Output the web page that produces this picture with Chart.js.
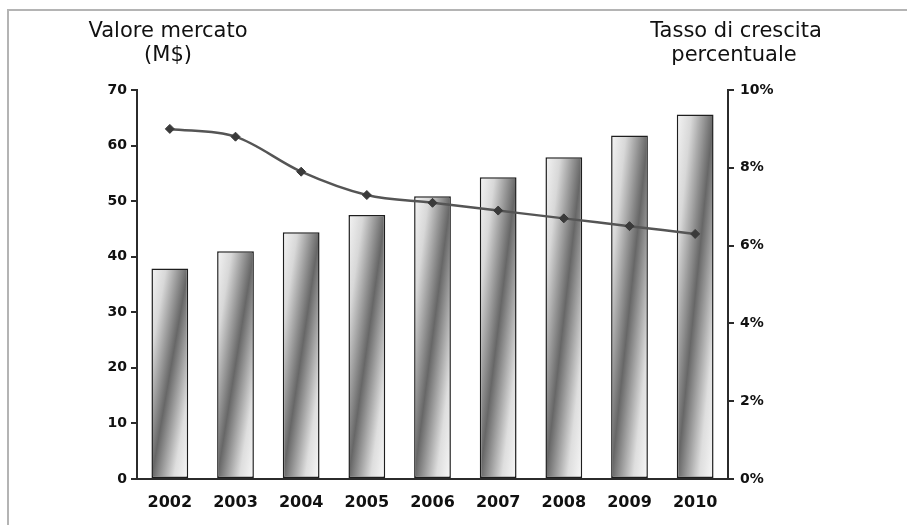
<!DOCTYPE html>
<html>
<head>
<meta charset="utf-8">
<script src="https://cdn.jsdelivr.net/npm/chart.js@4/dist/chart.umd.min.js"></script>
<style>
  html, body { margin: 0; padding: 0; background: #ffffff; }
  #wrap { width: 907px; height: 525px; position: relative; }
</style>
</head>
<body>
<div id="wrap"><canvas id="chart" width="907" height="525"></canvas></div>
<script>
// Market value (M$) and yearly growth rate (%)
const categories = ['2002', '2003', '2004', '2005', '2006', '2007', '2008', '2009', '2010'];
const marketValues = [37.9, 41.0, 44.4, 47.5, 50.9, 54.3, 57.9, 61.8, 65.6];
const growthRates = [9.0, 8.8, 7.9, 7.3, 7.1, 6.9, 6.7, 6.5, 6.3];
const leftTicks = [0, 10, 20, 30, 40, 50, 60, 70];
const rightTicks = [0, 2, 4, 6, 8, 10];
const leftTitle = ['Valore mercato', '(M$)'];
const rightTitle = ['Tasso di crescita', 'percentuale'];

const BAR_FRACTION = 0.56;
const AXIS_COLOR = '#2b2b2b';
const TICK_FONT = { family: 'DejaVu Sans', weight: 'bold', size: 14 };

// Diagonal shading: light corners, dark band from top-right to bottom-left
function barFill(ctx) {
  const chart = ctx.chart;
  const area = chart.chartArea;
  if (!area || ctx.type !== 'data') return '#888888';
  const xs = chart.scales.x, ys = chart.scales.y;
  const cx = xs.getPixelForValue(ctx.dataIndex);
  const W = (area.right - area.left) / categories.length * BAR_FRACTION;
  const top = ys.getPixelForValue(ctx.raw);
  const bottom = ys.getPixelForValue(0);
  const H = Math.max(1, bottom - top);
  const L = Math.hypot(W, H);
  const k = W * H / L;
  const cy = (top + bottom) / 2;
  const dx = H / L * k, dy = W / L * k;
  const g = chart.ctx.createLinearGradient(cx - dx, cy - dy, cx + dx, cy + dy);
  g.addColorStop(0, '#f4f4f4');
  g.addColorStop(0.2, '#d8d8d8');
  g.addColorStop(0.5, '#676767');
  g.addColorStop(0.8, '#dedede');
  g.addColorStop(1, '#f8f8f8');
  return g;
}

// Outer frame and the two axis headings
const decorations = {
  id: 'decorations',
  beforeDraw(chart) {
    const c = chart.ctx;
    c.save();
    c.fillStyle = '#ffffff';
    c.fillRect(0, 0, chart.width, chart.height);
    c.strokeStyle = '#b4b4b4';
    c.lineWidth = 2;
    c.beginPath();
    c.moveTo(8, chart.height);
    c.lineTo(8, 10);
    c.lineTo(chart.width, 10);
    c.stroke();
    c.restore();
  },
  afterDraw(chart) {
    const c = chart.ctx;
    c.save();
    c.fillStyle = '#111111';
    c.font = '21px "DejaVu Sans"';
    c.textAlign = 'center';
    c.textBaseline = 'alphabetic';
    c.fillText(leftTitle[0], 168, 37);
    c.fillText(leftTitle[1], 168, 61);
    c.fillText(rightTitle[0], 736, 37);
    c.fillText(rightTitle[1], 734, 61);
    c.restore();
  }
};

new Chart(document.getElementById('chart'), {
  type: 'bar',
  data: {
    labels: categories,
    datasets: [
      {
        type: 'line',
        label: rightTitle.join(' '),
        data: growthRates,
        yAxisID: 'y1',
        order: 0,
        borderColor: '#555555',
        borderWidth: 2.5,
        cubicInterpolationMode: 'monotone',
        pointStyle: 'rectRot',
        pointRadius: 4.5,
        pointBackgroundColor: '#3a3a3a',
        pointBorderColor: '#3a3a3a',
        pointBorderWidth: 1,
        fill: false
      },
      {
        type: 'bar',
        label: leftTitle.join(' '),
        data: marketValues,
        yAxisID: 'y',
        order: 1,
        backgroundColor: barFill,
        borderColor: '#1e1e1e',
        borderWidth: 1.5,
        borderSkipped: false,
        categoryPercentage: 1,
        barPercentage: BAR_FRACTION
      }
    ]
  },
  options: {
    responsive: false,
    devicePixelRatio: 1,
    animation: false,
    events: [],
    layout: { padding: { top: 90, left: 0, right: 0, bottom: 0 } },
    plugins: {
      legend: { display: false },
      tooltip: { enabled: false },
      title: { display: false }
    },
    scales: {
      x: {
        grid: { display: false },
        border: { display: true, color: AXIS_COLOR, width: 2 },
        ticks: { color: '#111111', font: { family: 'DejaVu Sans', weight: 'bold', size: 16 }, padding: 6, maxRotation: 0 },
        afterFit(scale) { scale.height = 46; }
      },
      y: {
        position: 'left',
        min: 0,
        max: 70,
        afterBuildTicks(scale) { scale.ticks = leftTicks.map(v => ({ value: v })); },
        grid: { drawOnChartArea: false, drawTicks: true, tickLength: 6, color: AXIS_COLOR, lineWidth: 2 },
        border: { display: true, color: AXIS_COLOR, width: 2 },
        ticks: { color: '#111111', font: TICK_FONT, padding: 4 },
        afterFit(scale) { scale.width = 137; }
      },
      y1: {
        position: 'right',
        min: 0,
        max: 10,
        afterBuildTicks(scale) { scale.ticks = rightTicks.map(v => ({ value: v })); },
        grid: { drawOnChartArea: false, drawTicks: true, tickLength: 6, color: AXIS_COLOR, lineWidth: 2 },
        border: { display: true, color: AXIS_COLOR, width: 2 },
        ticks: { color: '#111111', font: TICK_FONT, padding: 6, callback: v => v + '%' },
        afterFit(scale) { scale.width = 179; }
      }
    }
  },
  plugins: [decorations]
});
</script>
</body>
</html>
